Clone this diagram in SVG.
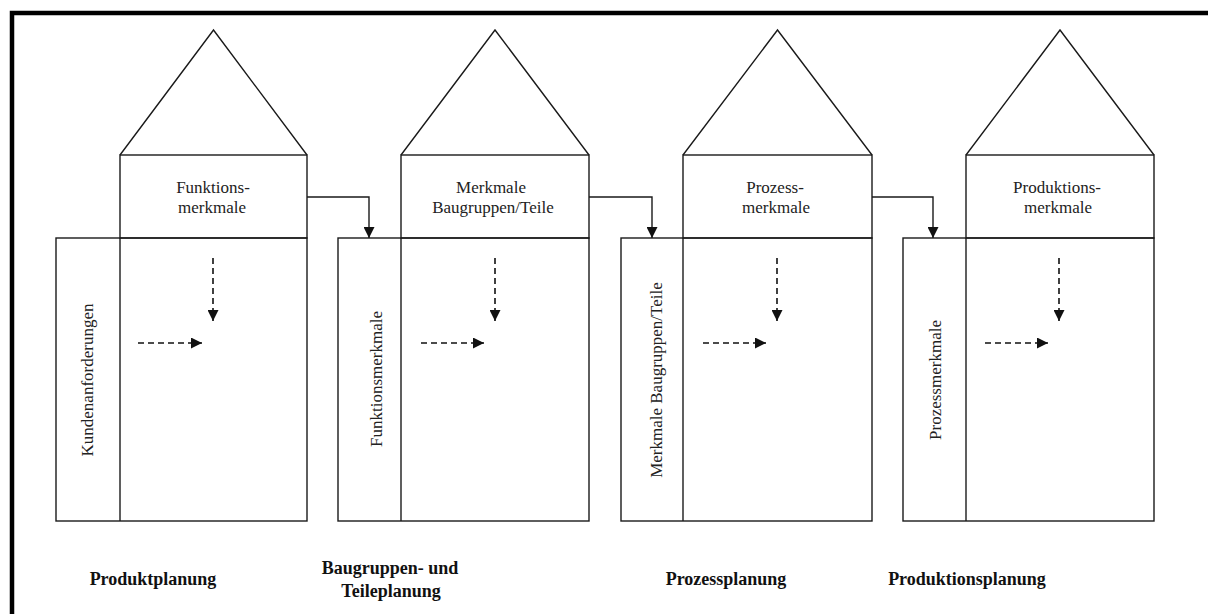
<svg xmlns="http://www.w3.org/2000/svg" width="1208" height="614" viewBox="0 0 1208 614">
  <style>
    .ln { fill: none; stroke: #1a1a1a; stroke-width: 1.4; }
    .frame { fill: none; stroke: #000; stroke-width: 4.5; }
    .dash { fill: none; stroke: #111; stroke-width: 1.6; stroke-dasharray: 6 4; }
    .lbl { font-family: "Liberation Serif", "Times New Roman", serif; font-size: 17px; fill: #222; text-anchor: middle; }
    .title { font-family: "Liberation Serif", "Times New Roman", serif; font-size: 18px; font-weight: bold; fill: #111; text-anchor: middle; }
  </style>
  <defs>
    <marker id="tri" viewBox="0 0 10 10" refX="10" refY="5" markerWidth="11" markerHeight="11" markerUnits="userSpaceOnUse" orient="auto">
      <path d="M0,0 L10,5 L0,10 Z" fill="#111"/>
    </marker>
  </defs>

  <rect width="1208" height="614" fill="#fff"/>

  <!-- open frame: top and left edges -->
  <polyline class="frame" points="12,614 12,13 1208,13"/>

  <!-- house 1: Produktplanung -->
  <g id="house-produktplanung">
    <polyline class="ln" points="120,155 213.5,30 307,155"/>
    <rect class="ln" x="120" y="155" width="187" height="83"/>
    <rect class="ln" x="56" y="238" width="251" height="283"/>
    <line class="ln" x1="120" y1="238" x2="120" y2="521"/>
    <text class="lbl" x="213" y="193">Funktions-</text>
    <text class="lbl" x="212" y="213">merkmale</text>
    <text class="lbl" transform="translate(93,380) rotate(-90)">Kundenanforderungen</text>
    <line class="dash" x1="213" y1="258" x2="213" y2="321" marker-end="url(#tri)"/>
    <line class="dash" x1="138" y1="343" x2="202" y2="343" marker-end="url(#tri)"/>
    <text class="title" x="153" y="585">Produktplanung</text>
  </g>

  <!-- house 2: Baugruppen- und Teileplanung -->
  <g id="house-teileplanung">
    <polyline class="ln" points="401,155 495,30 589,155"/>
    <rect class="ln" x="401" y="155" width="188" height="83"/>
    <rect class="ln" x="338" y="238" width="251" height="283"/>
    <line class="ln" x1="401" y1="238" x2="401" y2="521"/>
    <text class="lbl" x="491" y="193">Merkmale</text>
    <text class="lbl" x="493" y="213">Baugruppen/Teile</text>
    <text class="lbl" transform="translate(382,379) rotate(-90)">Funktionsmerkmale</text>
    <line class="dash" x1="495" y1="258" x2="495" y2="321" marker-end="url(#tri)"/>
    <line class="dash" x1="421" y1="343" x2="484" y2="343" marker-end="url(#tri)"/>
    <text class="title" x="390" y="574">Baugruppen- und</text>
    <text class="title" x="391" y="597">Teileplanung</text>
  </g>

  <!-- house 3: Prozessplanung -->
  <g id="house-prozessplanung">
    <polyline class="ln" points="683,155 777.5,30 872,155"/>
    <rect class="ln" x="683" y="155" width="189" height="83"/>
    <rect class="ln" x="621" y="238" width="251" height="283"/>
    <line class="ln" x1="683" y1="238" x2="683" y2="521"/>
    <text class="lbl" x="775" y="193">Prozess-</text>
    <text class="lbl" x="776" y="213">merkmale</text>
    <text class="lbl" transform="translate(662,380) rotate(-90)">Merkmale Baugruppen/Teile</text>
    <line class="dash" x1="777" y1="258" x2="777" y2="321" marker-end="url(#tri)"/>
    <line class="dash" x1="703" y1="343" x2="766" y2="343" marker-end="url(#tri)"/>
    <text class="title" x="726" y="585">Prozessplanung</text>
  </g>

  <!-- house 4: Produktionsplanung -->
  <g id="house-produktionsplanung">
    <polyline class="ln" points="966,155 1060,30 1154,155"/>
    <rect class="ln" x="966" y="155" width="188" height="83"/>
    <rect class="ln" x="903" y="238" width="251" height="283"/>
    <line class="ln" x1="966" y1="238" x2="966" y2="521"/>
    <text class="lbl" x="1057" y="193">Produktions-</text>
    <text class="lbl" x="1058" y="213">merkmale</text>
    <text class="lbl" transform="translate(941,380) rotate(-90)">Prozessmerkmale</text>
    <line class="dash" x1="1059" y1="258" x2="1059" y2="321" marker-end="url(#tri)"/>
    <line class="dash" x1="985" y1="343" x2="1048" y2="343" marker-end="url(#tri)"/>
    <text class="title" x="967" y="585">Produktionsplanung</text>
  </g>

  <!-- hand-over connectors between planning stages -->
  <g id="connectors">
    <polyline class="ln" points="307,197 369,197 369,238" marker-end="url(#tri)"/>
    <polyline class="ln" points="589,197 652,197 652,238" marker-end="url(#tri)"/>
    <polyline class="ln" points="872,197 933,197 933,238" marker-end="url(#tri)"/>
  </g>
</svg>
